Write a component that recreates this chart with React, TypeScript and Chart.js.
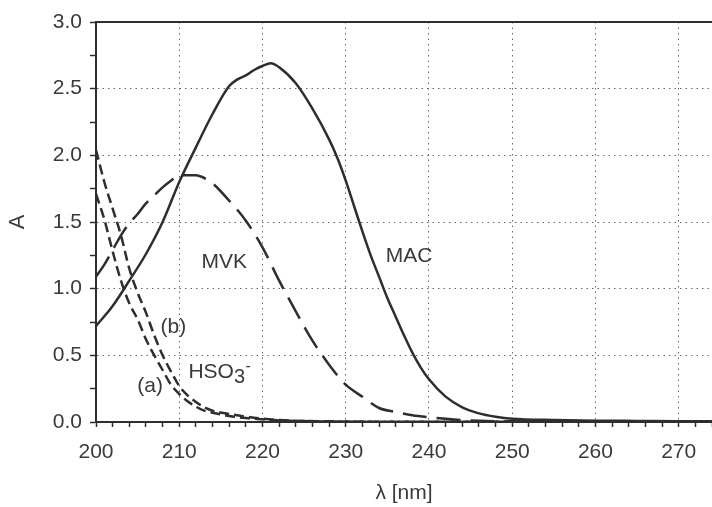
import React, { useEffect, useRef } from 'react';
import { Chart, registerables } from 'chart.js';

Chart.register(...registerables);

// ---- data ----
const macWavelength = [200, 202, 204, 206, 208, 210, 212, 214, 216, 217, 218, 219, 220, 221, 222, 224, 226, 228, 229, 230, 231, 232, 233, 234, 235, 236, 237, 238, 239, 240, 242, 244, 246, 248, 250, 255, 260, 265, 270, 274];
const macAbs = [0.72, 0.87, 1.06, 1.26, 1.50, 1.80, 2.06, 2.31, 2.52, 2.57, 2.60, 2.64, 2.67, 2.69, 2.66, 2.54, 2.35, 2.12, 1.98, 1.81, 1.62, 1.43, 1.25, 1.09, 0.93, 0.79, 0.65, 0.52, 0.41, 0.32, 0.19, 0.11, 0.065, 0.04, 0.025, 0.015, 0.01, 0.008, 0.006, 0.005];

const mvkWavelength = [200, 201, 202, 203, 204, 205, 206, 207, 208, 209, 210, 212, 213, 214, 216, 218, 220, 222, 224, 226, 228, 230, 232, 234, 236, 238, 240, 243, 246, 250, 260, 274];
const mvkAbs = [1.09, 1.18, 1.29, 1.40, 1.49, 1.56, 1.64, 1.70, 1.76, 1.81, 1.85, 1.85, 1.83, 1.79, 1.66, 1.51, 1.31, 1.06, 0.83, 0.61, 0.43, 0.28, 0.19, 0.105, 0.075, 0.05, 0.035, 0.018, 0.009, 0.005, 0.003, 0.002];

const hsoBWavelength = [200, 201, 202, 203, 204, 205, 206, 207, 208, 209, 210, 211, 212, 213, 214, 216, 218, 220, 222, 225, 230, 240, 250, 274];
const hsoBAbs = [2.04, 1.80, 1.60, 1.40, 1.15, 0.97, 0.82, 0.65, 0.50, 0.38, 0.27, 0.20, 0.15, 0.11, 0.085, 0.06, 0.04, 0.025, 0.015, 0.008, 0.004, 0.002, 0.001, 0.001];

const hsoAWavelength = [200, 201, 202, 203, 204, 205, 206, 207, 208, 209, 210, 211, 212, 213, 214, 216, 218, 220, 222, 225, 230, 240, 274];
const hsoAAbs = [1.71, 1.52, 1.28, 1.06, 0.89, 0.77, 0.62, 0.50, 0.39, 0.28, 0.21, 0.155, 0.115, 0.085, 0.07, 0.045, 0.03, 0.02, 0.012, 0.007, 0.003, 0.001, 0.001];

const xMin = 200;
const xMax = 274;
const yMin = 0;
const yMax = 3;

// text annotations: [text, wavelength, absorbance]
const annotationTexts = ['MVK', 'MAC', '(b)', '(a)'];
const annotationX = [215.4, 237.6, 209.3, 206.5];
const annotationY = [1.2, 1.24, 0.71, 0.27];
const hsoLabelX = 211.1;
const hsoLabelY = 0.37;

const FONT = '"Liberation Sans", Arial, Helvetica, sans-serif';
const INK = '#2e2e2e';
const TEXT = '#3a3a3a';

function toPoints(xs: number[], ys: number[]) {
  return xs.map((x, i) => ({ x, y: ys[i] }));
}

const labelPlugin = {
  id: 'curveLabels',
  afterDatasetsDraw(chart: any) {
    const { ctx, scales } = chart;
    const xs = scales.x;
    const ys = scales.y;
    ctx.save();
    ctx.fillStyle = TEXT;
    ctx.font = `21px ${FONT}`;
    ctx.textAlign = 'center';
    ctx.textBaseline = 'middle';
    annotationTexts.forEach((t, i) => {
      ctx.fillText(t, xs.getPixelForValue(annotationX[i]), ys.getPixelForValue(annotationY[i]));
    });
    // HSO3- with subscript and superscript
    ctx.textAlign = 'left';
    let px = xs.getPixelForValue(hsoLabelX);
    const py = ys.getPixelForValue(hsoLabelY);
    ctx.fillText('HSO', px, py);
    px += ctx.measureText('HSO').width;
    ctx.font = `20px ${FONT}`;
    ctx.fillText('3', px, py + 5);
    px += ctx.measureText('3').width;
    ctx.font = `16px ${FONT}`;
    ctx.fillText('-', px + 0.5, py - 6);
    ctx.restore();
  },
};

export default function App() {
  const canvasRef = useRef<HTMLCanvasElement | null>(null);

  useEffect(() => {
    if (!canvasRef.current) return;
    const gridColorX = (c: any) => {
      const v = c.tick ? c.tick.value : NaN;
      return v % 10 === 0 && v !== xMin ? '#6a6a6a' : 'rgba(0,0,0,0)';
    };
    const gridColorY = (c: any) => {
      const v = c.tick ? c.tick.value : NaN;
      const major = Math.abs(v * 2 - Math.round(v * 2)) < 1e-6;
      return major && v > yMin && v < yMax ? '#6a6a6a' : 'rgba(0,0,0,0)';
    };
    const noSidePad = (s: any) => {
      s.paddingLeft = 0;
      s.paddingRight = 0;
    };
    const chart = new Chart(canvasRef.current, {
      type: 'line',
      data: {
        datasets: [
          {
            label: 'MAC',
            data: toPoints(macWavelength, macAbs),
            borderColor: INK,
            borderWidth: 2.5,
            pointRadius: 0,
            cubicInterpolationMode: 'monotone',
            fill: false,
          },
          {
            label: 'MVK',
            data: toPoints(mvkWavelength, mvkAbs),
            borderColor: INK,
            borderWidth: 2.5,
            borderDash: [24, 10],
            pointRadius: 0,
            cubicInterpolationMode: 'monotone',
            fill: false,
          },
          {
            label: 'HSO3- (b)',
            data: toPoints(hsoBWavelength, hsoBAbs),
            borderColor: INK,
            borderWidth: 2.5,
            borderDash: [10, 5],
            pointRadius: 0,
            cubicInterpolationMode: 'monotone',
            fill: false,
          },
          {
            label: 'HSO3- (a)',
            data: toPoints(hsoAWavelength, hsoAAbs),
            borderColor: INK,
            borderWidth: 2.5,
            borderDash: [10, 5],
            pointRadius: 0,
            cubicInterpolationMode: 'monotone',
            fill: false,
          },
        ],
      },
      options: {
        animation: false,
        responsive: false,
        maintainAspectRatio: false,
        layout: { padding: { top: 22, left: 0, right: 0, bottom: 0 } },
        plugins: {
          legend: { display: false },
          tooltip: { enabled: false },
        },
        scales: {
          x: {
            type: 'linear',
            position: 'bottom',
            min: xMin,
            max: xMax,
            afterFit: (s: any) => { s.height = 85; noSidePad(s); },
            ticks: {
              stepSize: 2,
              autoSkip: false,
              maxRotation: 0,
              padding: 13,
              color: TEXT,
              font: { family: FONT, size: 21 },
              callback: (v: any) => (Number(v) % 10 === 0 ? String(v) : ''),
            },
            grid: {
              color: gridColorX,
              lineWidth: 1,
              tickColor: INK,
              tickLength: 5,
              tickWidth: 1.5,
            },
            border: { display: true, color: INK, width: 2, dash: [1.5, 4] },
            title: {
              display: true,
              text: 'λ [nm]',
              color: TEXT,
              font: { family: FONT, size: 21 },
              padding: { top: 0, bottom: 1 },
            },
          },
          x2: {
            type: 'linear',
            position: 'top',
            min: xMin,
            max: xMax,
            afterFit: (s: any) => { noSidePad(s); },
            ticks: { display: false },
            grid: { display: false, drawTicks: false },
            border: { display: true, color: INK, width: 2 },
          },
          y: {
            type: 'linear',
            position: 'left',
            min: yMin,
            max: yMax,
            afterFit: (s: any) => { s.width = 96; },
            ticks: {
              stepSize: 0.25,
              autoSkip: false,
              padding: 8,
              color: TEXT,
              font: { family: FONT, size: 21 },
              callback: (v: any) => {
                const n = Number(v);
                return Math.abs(n * 2 - Math.round(n * 2)) < 1e-6 ? n.toFixed(1) : '';
              },
            },
            grid: {
              color: gridColorY,
              lineWidth: 1,
              tickColor: INK,
              tickLength: 6,
              tickWidth: 1.5,
            },
            border: { display: true, color: INK, width: 2, dash: [1.5, 4] },
            title: {
              display: true,
              text: 'A',
              color: TEXT,
              font: { family: FONT, size: 22 },
              padding: { top: 5, bottom: 0 },
            },
          },
        },
      },
      plugins: [labelPlugin],
    } as any);
    return () => chart.destroy();
  }, []);

  return (
    <div style={{ position: 'fixed', left: 0, top: 0, width: 712, height: 507, background: '#ffffff' }}>
      <canvas ref={canvasRef} width={712} height={507} style={{ width: 712, height: 507 }} />
    </div>
  );
}
